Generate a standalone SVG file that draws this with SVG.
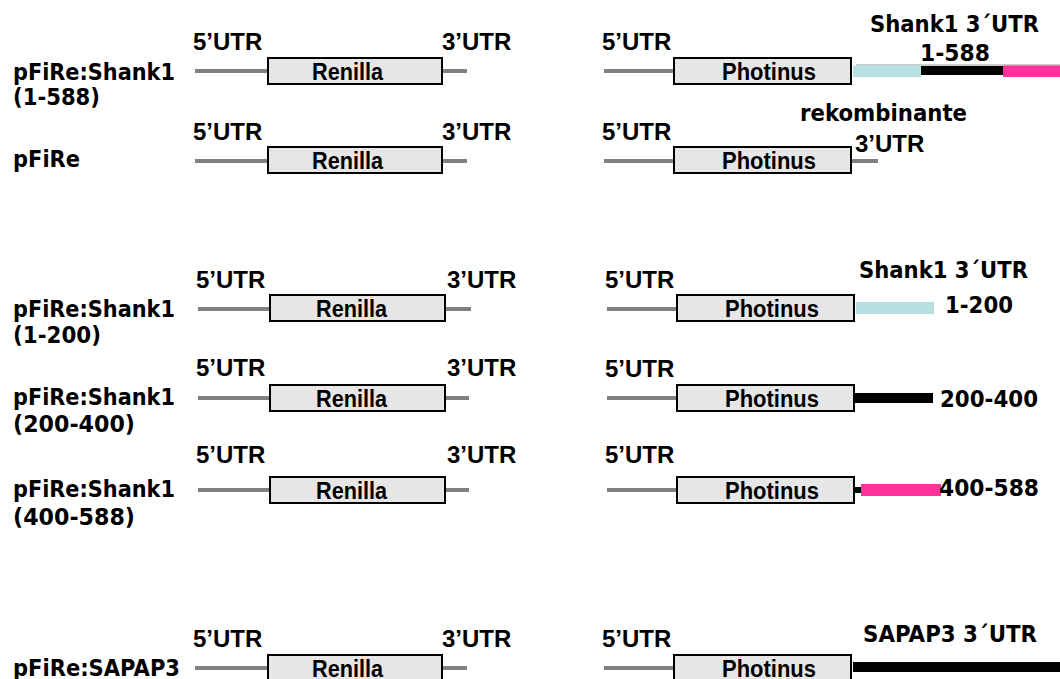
<svg xmlns="http://www.w3.org/2000/svg" width="1060" height="679" viewBox="0 0 1060 679">
<style>
.lbl{font-family:"DejaVu Sans",Verdana,sans-serif;font-weight:bold;font-size:22.5px;fill:#000}
.rl{font-family:"DejaVu Sans",Verdana,sans-serif;font-weight:bold;font-size:22.5px;fill:#000}
.utr{font-family:"Liberation Sans",Arial,sans-serif;font-weight:bold;font-size:24px;fill:#000}
.gene{font-family:"Liberation Sans",Arial,sans-serif;font-weight:bold;font-size:23px;fill:#000}
.ln{stroke:#808080;stroke-width:4;fill:none}
.box{fill:#e6e6e6;stroke:#000;stroke-width:2}
</style>
<rect width="1060" height="679" fill="#fff"/>
<g id="labels">
<text class="lbl" x="13" y="80" textLength="162" lengthAdjust="spacingAndGlyphs">pFiRe:Shank1</text>
<text class="lbl" x="13" y="105" textLength="87" lengthAdjust="spacingAndGlyphs">(1-588)</text>
<text class="lbl" x="13" y="167" textLength="67" lengthAdjust="spacingAndGlyphs">pFiRe</text>
<text class="lbl" x="13" y="317" textLength="162" lengthAdjust="spacingAndGlyphs">pFiRe:Shank1</text>
<text class="lbl" x="13" y="343" textLength="88" lengthAdjust="spacingAndGlyphs">(1-200)</text>
<text class="lbl" x="13" y="405" textLength="162" lengthAdjust="spacingAndGlyphs">pFiRe:Shank1</text>
<text class="lbl" x="13" y="432" textLength="122" lengthAdjust="spacingAndGlyphs">(200-400)</text>
<text class="lbl" x="13" y="497" textLength="162" lengthAdjust="spacingAndGlyphs">pFiRe:Shank1</text>
<text class="lbl" x="13" y="525" textLength="122" lengthAdjust="spacingAndGlyphs">(400-588)</text>
<text class="lbl" x="13" y="676" textLength="167" lengthAdjust="spacingAndGlyphs">pFiRe:SAPAP3</text>
</g>
<g id="connectors">
<line class="ln" x1="195" y1="71" x2="268" y2="71"/><line class="ln" x1="442" y1="71" x2="467" y2="71"/>
<line class="ln" x1="195" y1="161" x2="268" y2="161"/><line class="ln" x1="442" y1="161" x2="467" y2="161"/>
<line class="ln" x1="198" y1="309" x2="270" y2="309"/><line class="ln" x1="445" y1="309" x2="471" y2="309"/>
<line class="ln" x1="198" y1="398" x2="270" y2="398"/><line class="ln" x1="445" y1="398" x2="469" y2="398"/>
<line class="ln" x1="198" y1="490" x2="270" y2="490"/><line class="ln" x1="445" y1="490" x2="469" y2="490"/>
<line class="ln" x1="195" y1="668" x2="268" y2="668"/><line class="ln" x1="442" y1="668" x2="467" y2="668"/>
<line class="ln" x1="604" y1="71" x2="674" y2="71"/>
<line class="ln" x1="604" y1="161" x2="674" y2="161"/><line class="ln" x1="851" y1="161" x2="878" y2="161"/>
<line class="ln" x1="607" y1="309" x2="677" y2="309"/>
<line class="ln" x1="607" y1="398" x2="677" y2="398"/>
<line class="ln" x1="607" y1="490" x2="677" y2="490"/>
<line class="ln" x1="604" y1="668" x2="674" y2="668"/>
</g>
<g id="renilla1"><text class="utr" x="193" y="50">5’UTR</text><text class="utr" x="442" y="50">3’UTR</text><rect class="box" x="268" y="58" width="174" height="26"/><text class="gene" x="312" y="80" textLength="71" lengthAdjust="spacingAndGlyphs">Renilla</text></g>
<g id="renilla2"><text class="utr" x="193" y="140">5’UTR</text><text class="utr" x="442" y="140">3’UTR</text><rect class="box" x="268" y="147" width="174" height="26"/><text class="gene" x="312" y="169" textLength="71" lengthAdjust="spacingAndGlyphs">Renilla</text></g>
<g id="renilla3"><text class="utr" x="196" y="288">5’UTR</text><text class="utr" x="447" y="288">3’UTR</text><rect class="box" x="270" y="295" width="175" height="26"/><text class="gene" x="316" y="317" textLength="71" lengthAdjust="spacingAndGlyphs">Renilla</text></g>
<g id="renilla4"><text class="utr" x="196" y="376">5’UTR</text><text class="utr" x="447" y="376">3’UTR</text><rect class="box" x="270" y="385" width="175" height="26"/><text class="gene" x="316" y="407" textLength="71" lengthAdjust="spacingAndGlyphs">Renilla</text></g>
<g id="renilla5"><text class="utr" x="196" y="463">5’UTR</text><text class="utr" x="447" y="463">3’UTR</text><rect class="box" x="270" y="477" width="175" height="26"/><text class="gene" x="316" y="499" textLength="71" lengthAdjust="spacingAndGlyphs">Renilla</text></g>
<g id="renilla6"><text class="utr" x="193" y="647">5’UTR</text><text class="utr" x="442" y="647">3’UTR</text><rect class="box" x="268" y="655" width="174" height="28"/><text class="gene" x="312" y="677" textLength="71" lengthAdjust="spacingAndGlyphs">Renilla</text></g>
<g id="photinus1"><text class="utr" x="602" y="50">5’UTR</text>
<line x1="856" y1="65" x2="1060" y2="65" stroke="#999" stroke-width="1"/>
<rect x="853" y="65.5" width="68" height="11.5" fill="#b7e0e3"/><rect x="921" y="66" width="82" height="9" fill="#000"/><rect x="1003" y="65.5" width="57" height="11.5" fill="#ff3399"/>
<rect class="box" x="674" y="58" width="177" height="26"/><text class="gene" x="722" y="80" textLength="94" lengthAdjust="spacingAndGlyphs">Photinus</text>
<text class="rl" x="870" y="32" textLength="169" lengthAdjust="spacingAndGlyphs">Shank1 3´UTR</text><text class="rl" x="920" y="61" textLength="70" lengthAdjust="spacingAndGlyphs">1-588</text></g>
<g id="photinus2"><text class="utr" x="602" y="140">5’UTR</text><rect class="box" x="674" y="147" width="177" height="26"/><text class="gene" x="722" y="169" textLength="94" lengthAdjust="spacingAndGlyphs">Photinus</text>
<text class="rl" x="800" y="121" textLength="167" lengthAdjust="spacingAndGlyphs">rekombinante</text><text class="utr" x="855" y="152">3’UTR</text></g>
<g id="photinus3"><text class="utr" x="605" y="288">5’UTR</text><rect x="856" y="302" width="78" height="12" fill="#b7e0e3"/><rect class="box" x="677" y="295" width="177" height="26"/><text class="gene" x="725" y="317" textLength="94" lengthAdjust="spacingAndGlyphs">Photinus</text>
<text class="rl" x="859" y="278" textLength="169" lengthAdjust="spacingAndGlyphs">Shank1 3´UTR</text><text class="rl" x="945" y="313" textLength="68" lengthAdjust="spacingAndGlyphs">1-200</text></g>
<g id="photinus4"><text class="utr" x="605" y="377">5’UTR</text><rect x="855" y="393" width="78" height="10" fill="#000"/><rect class="box" x="677" y="385" width="177" height="26"/><text class="gene" x="725" y="407" textLength="94" lengthAdjust="spacingAndGlyphs">Photinus</text>
<text class="rl" x="940" y="407" textLength="98" lengthAdjust="spacingAndGlyphs">200-400</text></g>
<g id="photinus5"><text class="utr" x="605" y="463">5’UTR</text><rect x="855" y="487" width="7" height="6" fill="#000"/><rect x="861" y="484" width="80" height="12" fill="#ff3399"/><rect class="box" x="677" y="477" width="177" height="26"/><text class="gene" x="725" y="499" textLength="94" lengthAdjust="spacingAndGlyphs">Photinus</text>
<text class="rl" x="939" y="496" textLength="100" lengthAdjust="spacingAndGlyphs">400-588</text></g>
<g id="photinus6"><text class="utr" x="602" y="647">5’UTR</text><rect x="853" y="662" width="207" height="10" fill="#000"/><rect class="box" x="674" y="655" width="177" height="28"/><text class="gene" x="722" y="677" textLength="94" lengthAdjust="spacingAndGlyphs">Photinus</text>
<text class="rl" x="863" y="642" textLength="174" lengthAdjust="spacingAndGlyphs">SAPAP3 3´UTR</text></g>
</svg>
